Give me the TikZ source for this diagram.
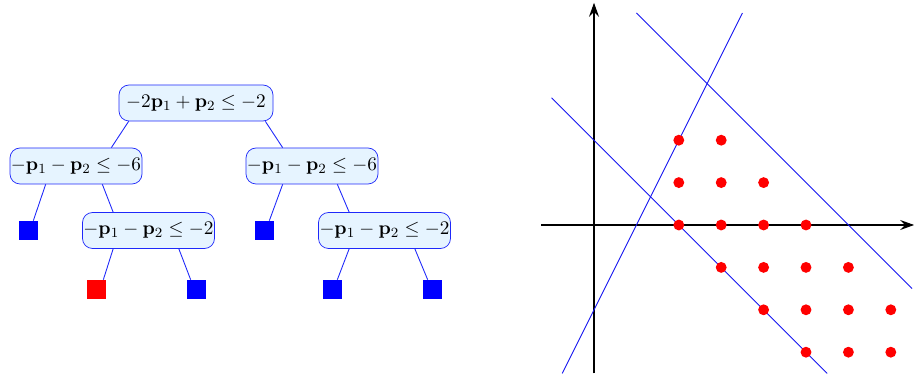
\documentclass[tikz,border=0pt]{standalone}
\usepackage{amsmath, amssymb}
\usepackage{tikz}
\usetikzlibrary{arrows.meta}
\usepackage{xcolor}
\definecolor{boxfill}{RGB}{230, 244, 255}
\definecolor{boxline}{RGB}{30, 40, 250}
\definecolor{planeline}{RGB}{20, 20, 240}
\definecolor{leafblue}{RGB}{0, 0, 255}
\definecolor{leafred}{RGB}{255, 0, 0}

\begin{document}
\begin{tikzpicture}[>={Stealth[length=2.8mm, width=2mm, inset=1mm]},
  testbox/.style={draw=boxline, fill=boxfill, rounded corners=2mm, inner sep=0pt,
    minimum height=0.72cm, minimum width=2.64cm, font=\fontsize{11}{13}\selectfont},
  leaf/.style={fill=leafblue, inner sep=0pt, minimum size=0.38cm},
  badleaf/.style={leaf, fill=leafred},
  branch/.style={draw=boxline, line width=0.5pt}]

  \useasboundingbox (0,0) rectangle (18.28,7.54);

  % Branch-and-bound tree
  \node[testbox, minimum width=3.08cm] (root) at (3.92,5.48) {$-2\mathbf{p}_1+\mathbf{p}_2\leq -2$};
  \node[testbox] (left) at (1.52,4.22) {$-\mathbf{p}_1-\mathbf{p}_2\leq -6$};
  \node[testbox] (right) at (6.24,4.22) {$-\mathbf{p}_1-\mathbf{p}_2\leq -6$};
  \node[testbox] (leftsub) at (2.97,2.93) {$-\mathbf{p}_1-\mathbf{p}_2\leq -2$};
  \node[testbox] (rightsub) at (7.69,2.93) {$-\mathbf{p}_1-\mathbf{p}_2\leq -2$};

  % Leaves
  \node[leaf] (leafa) at (0.57,2.93) {};
  \node[leaf] (leafb) at (5.29,2.93) {};
  \node[badleaf] (leafc) at (1.93,1.75) {};
  \node[leaf] (leafd) at (3.93,1.75) {};
  \node[leaf] (leafe) at (6.65,1.75) {};
  \node[leaf] (leaff) at (8.65,1.75) {};

  % Branches
  \draw[branch] ([xshift=0.2cm]root.south west) -- ([xshift=-0.62cm]left.north east);
  \draw[branch] ([xshift=-0.16cm]root.south east) -- ([xshift=0.74cm]right.north west);
  \draw[branch] ([xshift=0.72cm]left.south west) -- ([xshift=-0.1cm]leafa.north east);
  \draw[branch] ([xshift=-0.8cm]left.south east) -- ([xshift=0.62cm]leftsub.north west);
  \draw[branch] ([xshift=0.62cm]leftsub.south west) -- ([xshift=-0.06cm]leafc.north east);
  \draw[branch] ([xshift=-0.72cm]leftsub.south east) -- ([xshift=0.08cm]leafd.north west);
  \draw[branch] ([xshift=0.74cm]right.south west) -- ([xshift=-0.1cm]leafb.north east);
  \draw[branch] ([xshift=-0.82cm]right.south east) -- ([xshift=0.62cm]rightsub.north west);
  \draw[branch] ([xshift=0.62cm]rightsub.south west) -- ([xshift=-0.1cm]leafe.north east);
  \draw[branch] ([xshift=-0.72cm]rightsub.south east) -- ([xshift=0.1cm]leaff.north west);

  % Feasible region in the plane
  \begin{scope}[shift={(11.88,3.04)}, x=0.848cm, y=0.848cm]
    \draw[->, line width=0.6pt] (-1.25,0) -- (7.55,0);
    \draw[->, line width=0.6pt] (0,-3.5) -- (0,5.24);

    % Cutting planes
    \draw[planeline, line width=0.5pt] (-0.75,-3.5) -- (3.5,5);
    \draw[planeline, line width=0.5pt] (-1,3) -- (5.5,-3.5);
    \draw[planeline, line width=0.5pt] (1,5) -- (7.5,-1.5);

    % Integer points
    \foreach \px/\py in {2/2,3/2,2/1,3/1,4/1,2/0,3/0,4/0,5/0,3/-1,4/-1,5/-1,6/-1,
                         4/-2,5/-2,6/-2,7/-2,5/-3,6/-3,7/-3}
      \fill[leafred] (\px,\py) circle (3.1pt);
  \end{scope}

\end{tikzpicture}
\end{document}
